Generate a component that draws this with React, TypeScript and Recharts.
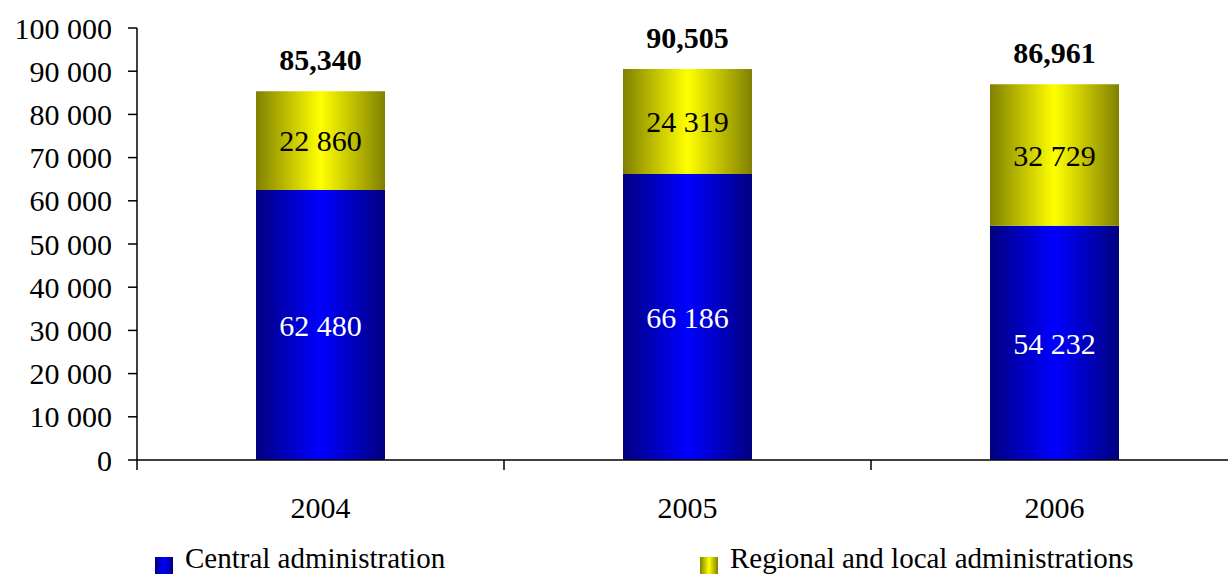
import React from 'react';
import { BarChart, Bar, XAxis, YAxis, LabelList, Legend } from 'recharts';

// Public administration staff by level of government
const years = ['2004', '2005', '2006'];
const centralStaff = [62480, 66186, 54232];
const regionalStaff = [22860, 24319, 32729];
const totalStaff = [85340, 90505, 86961];
const yTicks = [0, 10000, 20000, 30000, 40000, 50000, 60000, 70000, 80000, 90000, 100000];
const seriesNames = ['Central administration', 'Regional and local administrations'];

const data = years.map((year, i) => ({
  year,
  central: centralStaff[i],
  regional: regionalStaff[i],
}));

const FONT = "Liberation Serif, DejaVu Serif, serif";
const CHART_W = 1250;
const CHART_H = 574;
const MARGIN = { top: 28, right: 12, left: 0, bottom: 0 };
const Y_AXIS_W = 137;
const X_AXIS_H = 60;
const LEGEND_H = 54;
const PLOT_BOTTOM = CHART_H - MARGIN.bottom - LEGEND_H - X_AXIS_H;
const PLOT_W = CHART_W - MARGIN.left - MARGIN.right - Y_AXIS_W;
const BAND = PLOT_W / years.length;

const spaced = (v: number) => String(v).replace(/\B(?=(\d{3})+(?!\d))/g, ' ');
const commas = (v: number) => String(v).replace(/\B(?=(\d{3})+(?!\d))/g, ',');

const CategoryTick = (props: any) => {
  const { x, payload } = props;
  const left = x - BAND / 2;
  return (
    <g>
      <line x1={left} x2={left} y1={PLOT_BOTTOM} y2={PLOT_BOTTOM + 10} stroke="#000" strokeWidth={1.5} />
      <text x={x} y={PLOT_BOTTOM + 58} textAnchor="middle" style={{ fontFamily: FONT }} fontSize={30} fill="#000">
        {payload.value}
      </text>
    </g>
  );
};

const TotalLabel = (props: any) => {
  const { x, y, width, index } = props;
  return (
    <text
      x={x + width / 2}
      y={y - 21}
      textAnchor="middle"
      style={{ fontFamily: FONT }}
      fontSize={30}
      fontWeight="bold"
      fill="#000"
    >
      {commas(totalStaff[index])}
    </text>
  );
};

const swatches = [
  'linear-gradient(to right, #000080, #0000ff, #000080)',
  'linear-gradient(to right, #808000, #ffff00, #808000)',
];
const legendLeft = [155, 700];

const LegendContent = () => (
  <div style={{ position: 'relative', width: 1228, height: LEGEND_H }}>
    {seriesNames.map((name, i) => (
      <div key={name}>
        <div
          style={{
            position: 'absolute',
            left: legendLeft[i],
            top: 37,
            width: 18,
            height: 18,
            background: swatches[i],
          }}
        />
        <div
          style={{
            position: 'absolute',
            left: legendLeft[i] + 30,
            top: 24,
            fontFamily: FONT,
            fontSize: 29,
            lineHeight: '29px',
            whiteSpace: 'nowrap',
            color: '#000',
          }}
        >
          {name}
        </div>
      </div>
    ))}
  </div>
);

const labelStyle = { fontFamily: FONT };

export default function App() {
  return (
    <div style={{ position: 'absolute', left: 0, top: 0, width: 1228, height: 574, overflow: 'hidden', background: '#fff', fontFamily: FONT }}>
      <BarChart width={CHART_W} height={CHART_H} data={data} margin={MARGIN} style={{ fontFamily: FONT }}>
        <defs>
          <linearGradient id="gradCentral" x1="0" y1="0" x2="1" y2="0">
            <stop offset="0%" stopColor="#000080" />
            <stop offset="50%" stopColor="#0000ff" />
            <stop offset="100%" stopColor="#000080" />
          </linearGradient>
          <linearGradient id="gradRegional" x1="0" y1="0" x2="1" y2="0">
            <stop offset="0%" stopColor="#808000" />
            <stop offset="50%" stopColor="#ffff00" />
            <stop offset="100%" stopColor="#808000" />
          </linearGradient>
        </defs>
        <XAxis
          dataKey="year"
          height={X_AXIS_H}
          axisLine={{ stroke: '#000', strokeWidth: 1.5 }}
          tickLine={false}
          tick={<CategoryTick />}
          interval={0}
        />
        <YAxis
          width={Y_AXIS_W}
          domain={[0, 100000]}
          ticks={yTicks}
          interval={0}
          tickFormatter={spaced}
          axisLine={{ stroke: '#000', strokeWidth: 1.5 }}
          tickLine={{ stroke: '#000', strokeWidth: 1.5 }}
          tickSize={9}
          tickMargin={16}
          tick={{ style: labelStyle, fontSize: 30, fill: '#000' }}
        />
        <Legend verticalAlign="bottom" content={<LegendContent />} wrapperStyle={{ left: 0, width: 1228 }} />
        <Bar dataKey="central" name={seriesNames[0]} stackId="staff" fill="url(#gradCentral)" barSize={129} isAnimationActive={false}>
          <LabelList
            dataKey="central"
            position="center"
            formatter={(v: any) => spaced(Number(v))}
            fill="#fff"
            style={labelStyle}
            fontSize={30}
          />
        </Bar>
        <Bar dataKey="regional" name={seriesNames[1]} stackId="staff" fill="url(#gradRegional)" barSize={129} isAnimationActive={false}>
          <LabelList
            dataKey="regional"
            position="center"
            formatter={(v: any) => spaced(Number(v))}
            fill="#000"
            style={labelStyle}
            fontSize={30}
          />
          <LabelList dataKey="regional" content={<TotalLabel />} />
        </Bar>
      </BarChart>
    </div>
  );
}
